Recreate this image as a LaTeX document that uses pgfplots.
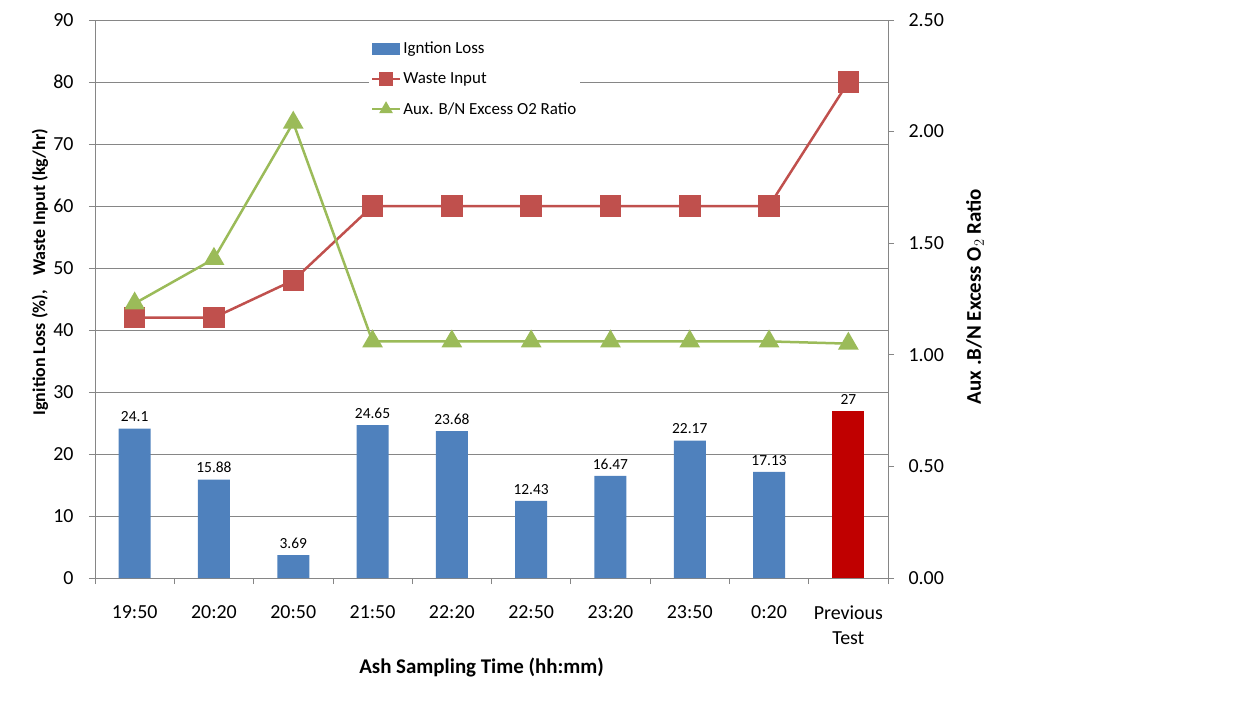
\documentclass[border=0pt]{standalone}
\usepackage{fontspec}
\setmainfont{Carlito}
\usepackage{pgfplots}
\pgfplotsset{compat=1.18}
\definecolor{barblue}{HTML}{4F81BD}
\definecolor{barred}{HTML}{C00000}
\definecolor{wastered}{HTML}{C0504D}
\definecolor{o2green}{HTML}{9BBB59}
\definecolor{axisgray}{HTML}{868686}
\pgfplotsset{
  mylineleg/.style={legend image code/.code={\draw[##1, mark size=5.5bp, mark repeat=2, mark phase=2] plot coordinates {(0bp,0bp)(14bp,0bp)(28bp,0bp)};}},
  mybarleg/.style={legend image code/.code={\fill[barblue] (0bp,-6bp) rectangle (28bp,6bp);}},
}
\begin{document}
\begin{tikzpicture}
\path[use as bounding box] (-95bp,-127bp) rectangle (1147bp,578bp);
\begin{axis}[
  at={(0,0)}, anchor=south west,
  scale only axis, width=793bp, height=558bp,
  xmin=-0.5, xmax=9.5, ymin=0, ymax=90,
  /pgf/number format/assume math mode=true,
  xtick={0,...,9},
  xticklabels={19:50,20:20,20:50,21:50,22:20,22:50,23:20,23:50,0:20,{Previous\\Test}},
  xticklabel style={align=center, font=\fontsize{20}{25}\selectfont, yshift=-18bp},
  major x tick style={draw=none},
  minor xtick={-0.5,0.5,...,9.5},
  minor x tick style={color=axisgray},
  ytick={0,10,...,90},
  yticklabel style={font=\fontsize{20}{24}\selectfont, xshift=-12bp},
  ymajorgrids, grid style={axisgray, line width=0.8bp},
  axis line style={color=axisgray, line width=0.8bp},
  tick style={color=axisgray, line width=0.8bp},
  tick align=outside, major tick length=6bp, minor tick length=6bp,
  axis y line*=left, axis x line*=bottom,
  xlabel={\bfseries Ash Sampling Time (hh:mm)},
  xlabel style={font=\fontsize{21}{24}\selectfont, at={(axis description cs:0.4875,0)}, anchor=center, yshift=-90bp},
  ylabel={\bfseries Ignition Loss (\%),\hspace{14bp}Waste Input (kg/hr)},
  ylabel style={font=\fontsize{18}{22}\selectfont, at={(axis description cs:-0.0694,0.548)}, anchor=center},
  legend style={draw=none, fill=white, at={(0.345,0.968)}, anchor=north west,
    font=\fontsize{17}{20}\selectfont, row sep=13.5bp, inner sep=2bp,
    legend cell align=left},
  nodes near coords style={font=\fontsize{15.5}{18}\selectfont, color=black, yshift=3bp},
]
\addplot[ybar, bar width=32bp, bar shift=0pt, fill=barblue, draw=none,
  nodes near coords, point meta=explicit symbolic, mybarleg]
  coordinates {(0,24.1)[24.1] (1,15.88)[15.88] (2,3.69)[3.69] (3,24.65)[24.65] (4,23.68)[23.68]
               (5,12.43)[12.43] (6,16.47)[16.47] (7,22.17)[22.17] (8,17.13)[17.13]};
\addlegendentry{Igntion Loss}
\addplot[ybar, bar width=32bp, bar shift=0pt, fill=barred, draw=none, forget plot,
  nodes near coords, point meta=explicit symbolic]
  coordinates {(9,27)[27]};
\addplot[color=wastered, line width=2.5bp, mark=square*, mark size=9.5bp, mylineleg]
  coordinates {(0,42) (1,42) (2,48) (3,60) (4,60) (5,60) (6,60) (7,60) (8,60) (9,80)};
\addlegendentry{Waste Input}
\addlegendimage{color=o2green, line width=2.5bp, mark=triangle*, mylineleg}
\addlegendentry{Aux. B/N Excess O2 Ratio}
\end{axis}
\begin{axis}[
  at={(0,0)}, anchor=south west,
  scale only axis, width=793bp, height=558bp,
  xmin=-0.5, xmax=9.5, ymin=0, ymax=2.5,
  /pgf/number format/assume math mode=true,
  axis x line=none, axis y line*=right,
  ytick={0,0.5,...,2.5},
  yticklabel style={font=\fontsize{20}{24}\selectfont, xshift=11bp,
    /pgf/number format/.cd, fixed, fixed zerofill, precision=2},
  axis line style={color=axisgray, line width=0.8bp},
  tick style={color=axisgray, line width=0.8bp},
  tick align=outside, major tick length=6bp,
  ylabel={\bfseries Aux .B/N Excess O$_2$ Ratio},
  ylabel style={font=\fontsize{21}{24}\selectfont, at={(axis description cs:1.1097,0.504)}, anchor=center},
]
\addplot[color=o2green, line width=2.5bp, mark=triangle*, mark size=9.5bp]
  coordinates {(0,1.23) (1,1.43) (2,2.04) (3,1.06) (4,1.06) (5,1.06) (6,1.06) (7,1.06) (8,1.06) (9,1.05)};
\end{axis}
\end{tikzpicture}
\end{document}
